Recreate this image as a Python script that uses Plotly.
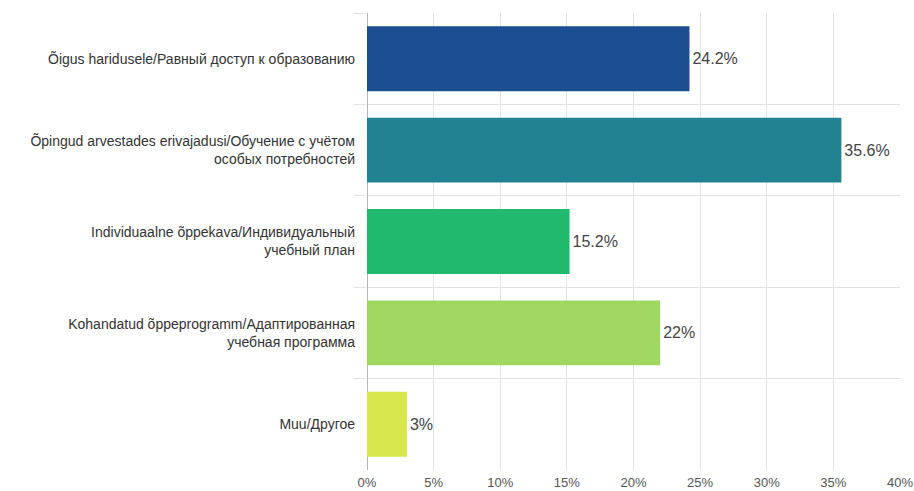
import plotly.graph_objects as go

# Response categories (Estonian / Russian), top to bottom
categories = [
    "Õigus haridusele/Равный доступ к образованию",
    "Õpingud arvestades erivajadusi/Обучение с учётом<br>особых потребностей",
    "Individuaalne õppekava/Индивидуальный<br>учебный план",
    "Kohandatud õppeprogramm/Адаптированная<br>учебная программа",
    "Muu/Другое",
]
values = [24.2, 35.6, 15.2, 22, 3]
value_labels = ["24.2%", "35.6%", "15.2%", "22%", "3%"]
bar_colors = ["#1b4f91", "#238291", "#21b96c", "#9fd760", "#d8e74e"]
x_tickvals = [0, 5, 10, 15, 20, 25, 30, 35, 40]
x_ticktext = ["0%", "5%", "10%", "15%", "20%", "25%", "30%", "35%", "40%"]

fig = go.Figure(
    go.Bar(
        x=values,
        y=categories,
        orientation="h",
        marker=dict(color=bar_colors, line=dict(width=0)),
        text=value_labels,
        textposition="outside",
        textfont=dict(family="Liberation Sans, Arial, sans-serif", size=16, color="#444444"),
        cliponaxis=False,
        hoverinfo="skip",
    )
)

fig.update_layout(
    width=914,
    height=491,
    margin=dict(l=367, r=14, t=13, b=21),
    paper_bgcolor="white",
    plot_bgcolor="white",
    bargap=0.29,
    showlegend=False,
    font=dict(family="Liberation Sans, Arial, sans-serif", size=14, color="#333333"),
)

fig.update_xaxes(
    range=[0, 40],
    tickvals=x_tickvals,
    ticktext=x_ticktext,
    automargin=False,
    showgrid=True,
    gridcolor="#e3e3e3",
    gridwidth=1,
    zeroline=True,
    zerolinecolor="#b5b5b5",
    zerolinewidth=1,
    showline=False,
    ticks="",
    ticklabelstandoff=3,
    tickfont=dict(size=13, color="#555555"),
)

fig.update_yaxes(
    autorange="reversed",
    type="category",
    automargin=False,
    tickson="boundaries",
    showgrid=True,
    gridcolor="#e3e3e3",
    gridwidth=1,
    ticks="outside",
    ticklen=12,
    tickcolor="#e3e3e3",
    ticklabelstandoff=11,
    showline=False,
    zeroline=False,
    tickfont=dict(size=14, color="#333333"),
)

fig.write_html("out.html")
